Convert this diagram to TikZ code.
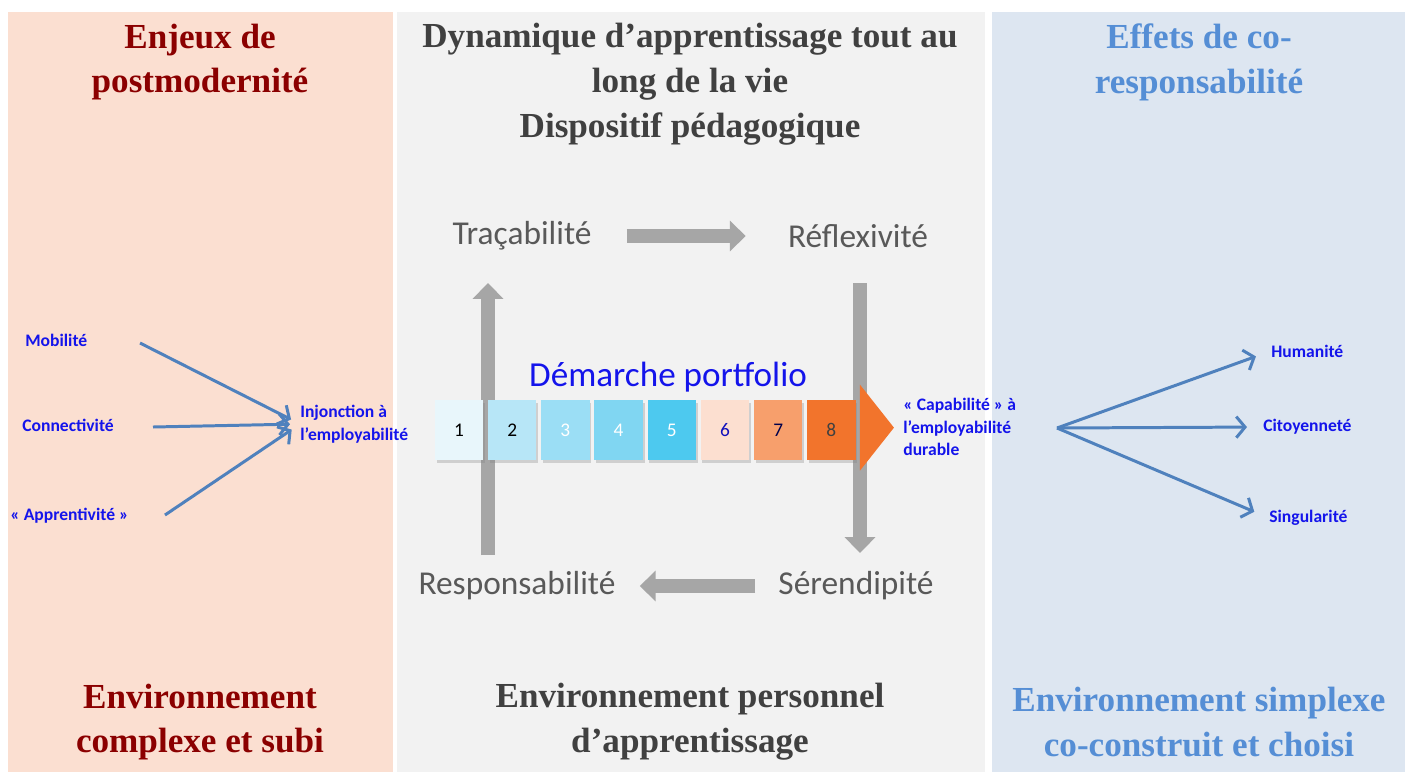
\documentclass[tikz,border=0pt]{standalone}
\usepackage{fontspec}
\setmainfont{Liberation Serif}
\newfontfamily\calibri{Carlito}
\usepackage{tikz}
\usetikzlibrary{positioning,arrows.meta,shadows}

\definecolor{leftpanel}{RGB}{251,223,209}
\definecolor{midpanel}{RGB}{242,242,242}
\definecolor{rightpanel}{RGB}{221,230,241}
\definecolor{lefttitle}{RGB}{139,0,0}
\definecolor{midtitle}{RGB}{64,64,64}
\definecolor{righttitle}{RGB}{85,142,213}
\definecolor{labelblue}{RGB}{20,20,235}
\definecolor{steelarrow}{RGB}{79,129,189}
\definecolor{blockgray}{RGB}{166,166,166}
\definecolor{steptext}{RGB}{89,89,89}
\definecolor{boxone}{RGB}{232,246,251}
\definecolor{boxtwo}{RGB}{183,230,247}
\definecolor{boxthree}{RGB}{155,222,245}
\definecolor{boxfour}{RGB}{128,214,242}
\definecolor{boxfive}{RGB}{77,201,239}
\definecolor{boxsix}{RGB}{252,223,208}
\definecolor{boxseven}{RGB}{247,159,108}
\definecolor{boxeight}{RGB}{242,116,44}

\tikzset{
	paneltitle/.style={align=center,font=\bfseries\fontsize{20}{25.5}\selectfont},
	steplabel/.style={inner sep=0pt,text=steptext,font=\calibri\fontsize{19}{22}\selectfont},
	bluelabel/.style={inner sep=0pt,anchor=west,align=left,text=labelblue,font=\calibri\bfseries\fontsize{10}{13}\selectfont},
	stepbox/.style={minimum width=0.97cm,minimum height=1.2cm,inner sep=0pt,font=\calibri\fontsize{11}{13}\selectfont,drop shadow={opacity=0.3,shadow xshift=1pt,shadow yshift=-1.5pt}},
	blockarrow/.style={draw=blockgray,line width=8pt,-{Triangle[width=17pt,length=9pt]}},
	thinarrow/.style={draw=steelarrow,line width=1.7pt,-{Straight Barb[length=5pt,width=12pt]}}
}

\begin{document}
\begin{tikzpicture}[x=0.02cm,y=-0.02cm]
	\useasboundingbox (0,0) rectangle (1407,772);
	\fill[leftpanel] (8,12) rectangle (393,772);
	\fill[midpanel] (397,12) rectangle (985,772);
	\fill[rightpanel] (992,12) rectangle (1405,772);

	\node[paneltitle,text=lefttitle](enjeux) at (200,62){Enjeux de\\postmodernité};
	\node[paneltitle,text=midtitle](dynamique) at (690,84){Dynamique d’apprentissage tout au\\long de la vie\\Dispositif pédagogique};
	\node[paneltitle,text=righttitle](effets) at (1199,62){Effets de co-\\responsabilité};
	\node[paneltitle,text=lefttitle](envsubi) at (200,722){Environnement\\complexe et subi};
	\node[paneltitle,text=midtitle](envperso) at (690,722){Environnement personnel\\d’apprentissage};
	\node[paneltitle,text=righttitle](envchoisi) at (1199,722){Environnement simplexe\\co-construit et choisi};

	\node[steplabel](trac) at (522,236){Traçabilité};
	\node[steplabel](refl) at (858,236){Réflexivité};
	\node[steplabel](resp) at (517,586){Responsabilité};
	\node[steplabel](seren) at (856,586){Sérendipité};
	\coordinate (upfoot) at (488,555);
	\coordinate (uptip) at (488,283);
	\coordinate (downtop) at (860,283);
	\coordinate (downtip) at (860,553);
	\draw [blockarrow,shorten <=0.7cm,shorten >=0.84cm](trac.east)--(refl.west);
	\draw [blockarrow](downtop)--(downtip);
	\draw [blockarrow,shorten <=0.46cm,shorten >=0.48cm](seren.west)--(resp.east);
	\draw [blockarrow](upfoot)--(uptip);

	\node[text=labelblue,font=\calibri\fontsize{20}{23}\selectfont](demarche) at (668,377){Démarche portfolio};
	\node[stepbox,fill=boxone,text=black](box1) at (459,430){1};
	\node[stepbox,fill=boxtwo,text=black,right=0.08cm of box1](box2){2};
	\node[stepbox,fill=boxthree,text=white,right=0.08cm of box2](box3){3};
	\node[stepbox,fill=boxfour,text=white,right=0.08cm of box3](box4){4};
	\node[stepbox,fill=boxfive,text=white,right=0.08cm of box4](box5){5};
	\node[stepbox,fill=boxsix,text=labelblue!80!black,right=0.08cm of box5](box6){6};
	\node[stepbox,fill=boxseven,text=black!70!blue,right=0.08cm of box6](box7){7};
	\node[stepbox,fill=boxeight,text=black!75,right=0.08cm of box7](box8){8};
	\fill[boxeight] ([xshift=0.08cm]box8.north east) ++(0,-15) -- ++(34,43) -- ++(-34,43) -- cycle;

	\node[bluelabel](mob) at (25,340){Mobilité};
	\node[bluelabel](conn) at (22,425){Connectivité};
	\node[bluelabel](appr) at (10,516){« Apprentivité »};
	\node[bluelabel](inj) at (300,424){Injonction à\\l’employabilité};
	\coordinate (mobstart) at (140,343);
	\coordinate (connstart) at (153,427);
	\coordinate (apprstart) at (165,515);
	\draw [thinarrow,shorten >=0.2cm](mobstart)--(inj.west);
	\draw [thinarrow,shorten >=0.2cm](connstart)--(inj.west);
	\draw [thinarrow,shorten >=0.2cm](apprstart)--(inj.west);

	\node[bluelabel](capa) at (903,427){« Capabilité » à\\l’employabilité\\durable};
	\node[bluelabel](hum) at (1271,351){Humanité};
	\node[bluelabel](cito) at (1263,427){Citoyenneté};
	\node[bluelabel](sing) at (1269,518){Singularité};
	\coordinate (fork) at (1057,428);
	\draw [thinarrow,shorten >=0.32cm](fork)--(hum.west);
	\draw [thinarrow,shorten >=0.32cm](fork)--(cito.west);
	\draw [thinarrow,shorten >=0.32cm](fork)--(sing.west);
\end{tikzpicture}
\end{document}
